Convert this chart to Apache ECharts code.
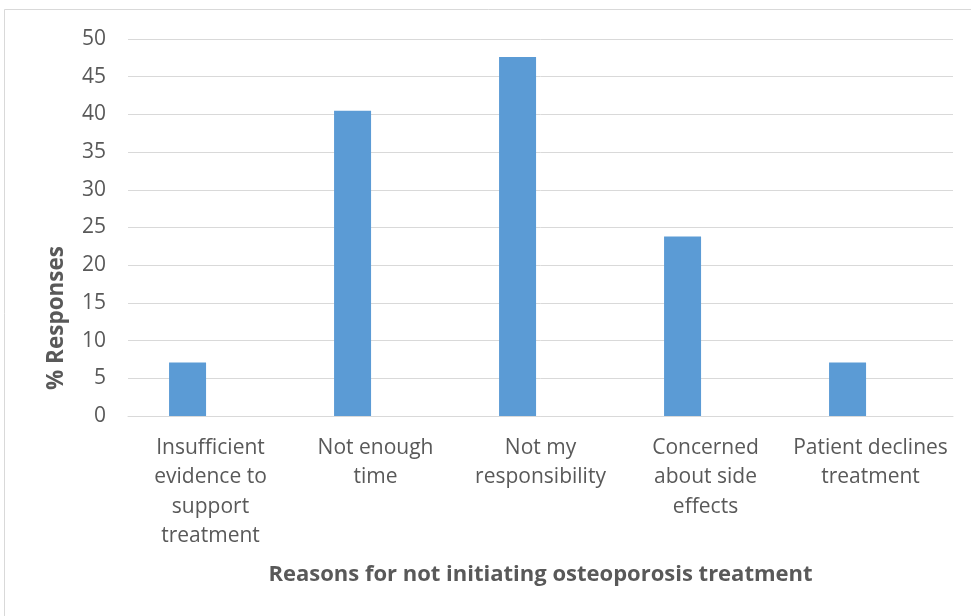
<!DOCTYPE html>
<html>
<head>
<meta charset="utf-8">
<script src="https://cdn.jsdelivr.net/npm/echarts@6/dist/echarts.min.js"></script>
<style>
  html, body { margin: 0; padding: 0; background: #ffffff; }
  #chart { width: 971px; height: 616px; }
</style>
</head>
<body>
<div id="chart"></div>
<script>
// Survey reasons (category labels, wrapped as displayed)
const categories = [
  'Insufficient\nevidence to\nsupport\ntreatment',
  'Not enough\ntime',
  'Not my\nresponsibility',
  'Concerned\nabout side\neffects',
  'Patient declines\ntreatment'
];
// Share of respondents citing each reason (%)
const responses = [7.1, 40.5, 47.6, 23.8, 7.1];
// Second (empty) series slot kept in the cluster layout
const emptySlot = [null, null, null, null, null];

const yTicks = { min: 0, max: 50, interval: 5 };

const FONT = '"Open Sans", Lato, sans-serif';
const TEXT = '#595959';

const chart = echarts.init(document.getElementById('chart'), null, { renderer: 'canvas' });
chart.setOption({
  backgroundColor: '#ffffff',
  animation: false,
  grid: { left: 128, right: 18, top: 39, bottom: 200, containLabel: false },
  graphic: [
    {
      type: 'rect',
      shape: { x: 4.5, y: 9.5, width: 1000, height: 700 },
      style: { fill: 'none', stroke: '#d9d9d9', lineWidth: 1 },
      silent: true
    },
    {
      type: 'text',
      x: 57, y: 318,
      rotation: Math.PI / 2,
      style: {
        text: '% Responses',
        font: 'bold 22.5px ' + FONT,
        fill: TEXT,
        textAlign: 'center',
        textVerticalAlign: 'middle'
      },
      silent: true
    }
  ],
  xAxis: {
    type: 'category',
    data: categories,
    name: 'Reasons for not initiating osteoporosis treatment',
    nameLocation: 'middle',
    nameGap: 148,
    nameTextStyle: { fontFamily: FONT, fontSize: 22, fontWeight: 'bold', color: TEXT },
    axisLine: { show: true, lineStyle: { color: '#d9d9d9', width: 1 } },
    axisTick: { show: false },
    axisLabel: {
      fontFamily: FONT, fontSize: 21, color: TEXT,
      lineHeight: 29.5, margin: 17, interval: 0, align: 'center'
    },
    splitLine: { show: false }
  },
  yAxis: {
    type: 'value',
    min: yTicks.min, max: yTicks.max, interval: yTicks.interval,
    axisLine: { show: false },
    axisTick: { show: false },
    axisLabel: { fontFamily: FONT, fontSize: 21, color: TEXT, margin: 22 },
    splitLine: { show: true, lineStyle: { color: '#d9d9d9', width: 1 } }
  },
  series: [
    {
      type: 'bar',
      data: responses,
      barWidth: 37,
      barGap: '24%',
      itemStyle: { color: '#5b9bd5' }
    },
    {
      type: 'bar',
      data: emptySlot,
      barWidth: 37,
      itemStyle: { color: '#ed7d31' }
    }
  ]
});
</script>
</body>
</html>
